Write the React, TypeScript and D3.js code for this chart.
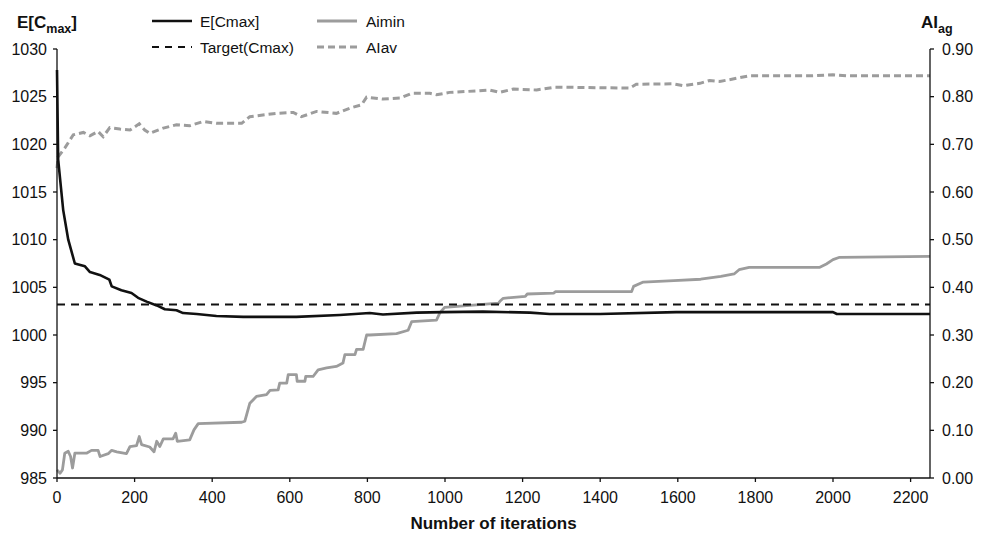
import React from "react";
import * as d3 from "d3";

const xTicks = [0, 200, 400, 600, 800, 1000, 1200, 1400, 1600, 1800, 2000, 2200];
const leftTicks = [985, 990, 995, 1000, 1005, 1010, 1015, 1020, 1025, 1030];
const rightTicks = [0, 0.1, 0.2, 0.3, 0.4, 0.5, 0.6, 0.7, 0.8, 0.9];

const cmaxIter = [0, 3, 16, 29, 46, 72, 85, 110, 135, 141, 166, 192, 209, 231, 257, 278, 308, 325, 360, 411, 480, 617, 729, 806, 840, 927, 995, 1098, 1219, 1270, 1400, 1596, 2000, 2010, 2250];
const cmaxValue = [1027.8, 1018.4, 1013.1, 1010.0, 1007.5, 1007.2, 1006.6, 1006.3, 1005.8, 1005.1, 1004.7, 1004.4, 1003.9, 1003.5, 1003.1, 1002.7, 1002.6, 1002.3, 1002.2, 1002.0, 1001.9, 1001.9, 1002.1, 1002.3, 1002.15, 1002.35, 1002.4, 1002.45, 1002.35, 1002.2, 1002.2, 1002.4, 1002.4, 1002.2, 1002.2];

const targetCmax = 1003.2;

const aiavIter = [0, 3, 20, 42, 68, 85, 106, 119, 136, 162, 188, 212, 226, 239, 274, 308, 342, 377, 411, 476, 497, 566, 609, 630, 669, 720, 755, 785, 798, 840, 884, 914, 961, 978, 1012, 1081, 1115, 1141, 1176, 1236, 1283, 1476, 1493, 1588, 1614, 1657, 1682, 1708, 1742, 1785, 1948, 2000, 2035, 2250];
const aiavValue = [0.650, 0.674, 0.692, 0.720, 0.725, 0.718, 0.727, 0.716, 0.735, 0.732, 0.730, 0.743, 0.730, 0.723, 0.734, 0.741, 0.739, 0.748, 0.744, 0.744, 0.758, 0.765, 0.767, 0.758, 0.769, 0.765, 0.776, 0.783, 0.799, 0.795, 0.797, 0.807, 0.807, 0.804, 0.809, 0.812, 0.814, 0.809, 0.816, 0.814, 0.820, 0.818, 0.826, 0.827, 0.823, 0.828, 0.834, 0.832, 0.837, 0.844, 0.844, 0.846, 0.844, 0.844];

const aiminIter = [0, 8, 14, 20, 29, 35, 40, 46, 76, 89, 106, 111, 132, 141, 154, 179, 188, 205, 212, 218, 239, 250, 257, 265, 274, 299, 306, 310, 342, 353, 364, 476, 484, 497, 514, 540, 549, 570, 574, 592, 596, 617, 619, 639, 641, 660, 673, 695, 720, 737, 742, 768, 772, 789, 798, 806, 875, 905, 914, 978, 987, 999, 1138, 1143, 1150, 1207, 1212, 1280, 1285, 1481, 1486, 1511, 1590, 1659, 1711, 1745, 1758, 1784, 1966, 1983, 2000, 2017, 2250];
const aiminValue = [0.017, 0.010, 0.017, 0.052, 0.056, 0.045, 0.021, 0.052, 0.052, 0.058, 0.058, 0.045, 0.051, 0.058, 0.055, 0.051, 0.066, 0.068, 0.087, 0.070, 0.065, 0.055, 0.077, 0.066, 0.082, 0.082, 0.094, 0.077, 0.080, 0.101, 0.114, 0.117, 0.119, 0.157, 0.171, 0.175, 0.184, 0.185, 0.199, 0.199, 0.217, 0.217, 0.203, 0.203, 0.213, 0.213, 0.227, 0.231, 0.234, 0.241, 0.259, 0.259, 0.270, 0.270, 0.300, 0.300, 0.303, 0.310, 0.328, 0.331, 0.347, 0.358, 0.367, 0.372, 0.377, 0.381, 0.386, 0.388, 0.391, 0.391, 0.402, 0.411, 0.414, 0.417, 0.423, 0.428, 0.437, 0.442, 0.442, 0.449, 0.458, 0.463, 0.465];

const W = 987;
const H = 539;
const M = { left: 57, right: 930, top: 49, bottom: 478 };

export default function App() {
  const x = d3.scaleLinear().domain([0, 2250]).range([M.left, M.right]);
  const yL = d3.scaleLinear().domain([985, 1030]).range([M.bottom, M.top]);
  const yR = d3.scaleLinear().domain([0, 0.9]).range([M.bottom, M.top]);

  const lineL = d3.line<[number, number]>().x((d) => x(d[0])).y((d) => yL(d[1]));
  const lineR = d3.line<[number, number]>().x((d) => x(d[0])).y((d) => yR(d[1]));

  const cmax = cmaxIter.map((v, i) => [v, cmaxValue[i]] as [number, number]);
  const aiav = aiavIter.map((v, i) => [v, aiavValue[i]] as [number, number]);
  const aimin = aiminIter.map((v, i) => [v, aiminValue[i]] as [number, number]);

  const font = "Liberation Sans, Arial, Helvetica, sans-serif";
  const gray = "#9c9c9c";

  return (
    <svg width={W} height={H} style={{ position: "absolute", left: 0, top: 0, background: "#fff" }} fontFamily={font}>
      {/* data */}
      <path d={lineR(aimin) || ""} fill="none" stroke={gray} strokeWidth={2.8} strokeLinejoin="round" />
      <path d={lineR(aiav) || ""} fill="none" stroke={gray} strokeWidth={3} strokeDasharray="7,4" />
      <line x1={x(0)} x2={x(2250)} y1={yL(targetCmax)} y2={yL(targetCmax)} stroke="#111" strokeWidth={2} strokeDasharray="8,6" />
      <path d={lineL(cmax) || ""} fill="none" stroke="#111" strokeWidth={2.6} strokeLinejoin="round" />

      {/* axes */}
      <g stroke="#111" strokeWidth={1.3} fill="none">
        <line x1={M.left} x2={M.left} y1={M.top} y2={M.bottom} />
        <line x1={M.right} x2={M.right} y1={M.top} y2={M.bottom} />
        <line x1={M.left} x2={M.right} y1={M.bottom} y2={M.bottom} />
        {leftTicks.map((t) => (
          <line key={"lt" + t} x1={M.left - 4} x2={M.left} y1={yL(t)} y2={yL(t)} />
        ))}
        {rightTicks.map((t) => (
          <line key={"rt" + t} x1={M.right} x2={M.right + 4} y1={yR(t)} y2={yR(t)} />
        ))}
        {xTicks.map((t) => (
          <line key={"xt" + t} x1={x(t)} x2={x(t)} y1={M.bottom} y2={M.bottom + 4} />
        ))}
      </g>
      <g fontSize={16} fill="#111">
        {leftTicks.map((t) => (
          <text key={"ll" + t} x={M.left - 10} y={yL(t) + 5.5} textAnchor="end">{t}</text>
        ))}
        {rightTicks.map((t) => (
          <text key={"rl" + t} x={M.right + 12} y={yR(t) + 5.5} textAnchor="start">{t.toFixed(2)}</text>
        ))}
        {xTicks.map((t) => (
          <text key={"xl" + t} x={x(t)} y={M.bottom + 25} textAnchor="middle">{t}</text>
        ))}
      </g>

      {/* axis titles */}
      <text x={17} y={28} fontSize={17} fontWeight="bold" fill="#111">
        E[C<tspan fontSize={12.5} dy={5}>max</tspan><tspan dy={-5}>]</tspan>
      </text>
      <text x={921} y={28} fontSize={17} fontWeight="bold" fill="#111">
        AI<tspan fontSize={12.5} dy={5}>ag</tspan>
      </text>
      <text x={(M.left + M.right) / 2} y={529} fontSize={17} fontWeight="bold" textAnchor="middle" fill="#111">
        Number of iterations
      </text>

      {/* legend */}
      <g fontSize={15.5} fill="#111">
        <line x1={152} x2={192} y1={21} y2={21} stroke="#111" strokeWidth={2.6} />
        <text x={200} y={26.5}>E[Cmax]</text>
        <line x1={152} x2={192} y1={47} y2={47} stroke="#111" strokeWidth={2} strokeDasharray="7,6" />
        <text x={200} y={52.5}>Target(Cmax)</text>
        <line x1={317} x2={357} y1={21} y2={21} stroke={gray} strokeWidth={2.8} />
        <text x={366} y={26.5}>Aimin</text>
        <line x1={317} x2={357} y1={47} y2={47} stroke={gray} strokeWidth={3} strokeDasharray="7,4" />
        <text x={366} y={52.5}>AIav</text>
      </g>
    </svg>
  );
}
